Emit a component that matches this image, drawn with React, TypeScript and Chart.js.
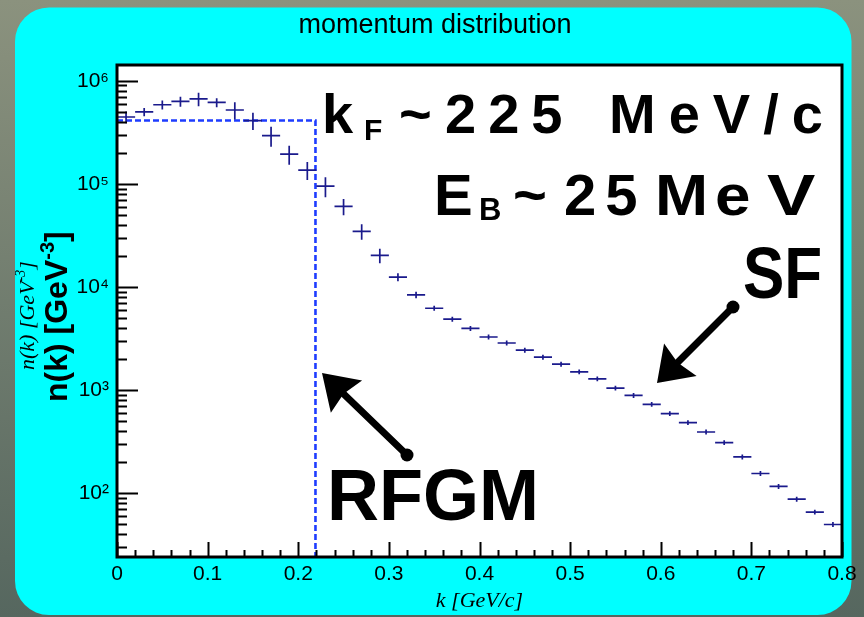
import React, { useEffect, useRef } from 'react';
import { Chart, registerables } from 'chart.js';

Chart.register(...registerables);

// ---- data -------------------------------------------------------------
// momentum bin centres k [GeV/c] (bin width 0.02)
const K_CENTERS = [
  0.01, 0.03, 0.05, 0.07, 0.09, 0.11, 0.13, 0.15, 0.17, 0.19,
  0.21, 0.23, 0.25, 0.27, 0.29, 0.31, 0.33, 0.35, 0.37, 0.39,
  0.41, 0.43, 0.45, 0.47, 0.49, 0.51, 0.53, 0.55, 0.57, 0.59,
  0.61, 0.63, 0.65, 0.67, 0.69, 0.71, 0.73, 0.75, 0.77, 0.79,
];
const BIN_HALF = 0.01;

// spectral-function momentum distribution n(k) [GeV^-3]
const N_K = [
  4.45e5, 4.98e5, 5.85e5, 6.3e5, 6.66e5, 6.16e5, 5.2e5, 4.1e5, 2.93e5, 1.94e5,
  1.36e5, 9.5e4, 6.05e4, 3.47e4, 2.03e4, 1.25e4, 8.4e3, 6.23e3, 4.88e3, 3.98e3,
  3.28e3, 2.87e3, 2.45e3, 2.09e3, 1.79e3, 1.51e3, 1.29e3, 1.05e3, 891, 731,
  594, 486, 394, 311, 226, 156, 117, 88, 66, 50,
];

// relative statistical error of each bin
const N_K_ERR_REL = [
  0.13, 0.09, 0.1, 0.11, 0.15, 0.1, 0.19, 0.19, 0.22, 0.21,
  0.2, 0.22, 0.18, 0.17, 0.16, 0.09, 0.075, 0.055, 0.055, 0.055,
  0.055, 0.055, 0.055, 0.055, 0.055, 0.055, 0.055, 0.055, 0.055, 0.055,
  0.055, 0.055, 0.055, 0.055, 0.055, 0.055, 0.055, 0.055, 0.055, 0.055,
];

// relativistic Fermi gas: flat up to k_F, zero above
const RFGM_LEVEL = 4.12e5;
const RFGM_KF = 0.219;

// axis ranges
const X_MIN = 0;
const X_MAX = 0.8;
const X_STEP = 0.1;
const X_MINOR = 0.02;
const Y_MIN = 24.2;
const Y_MAX = 1.42e6;

const SUPERSCRIPT: Record<number, string> = {
  0: '\u2070', 1: '\u00b9', 2: '\u00b2', 3: '\u00b3', 4: '\u2074',
  5: '\u2075', 6: '\u2076', 7: '\u2077', 8: '\u2078', 9: '\u2079',
};

// ---- styles & layout --------------------------------------------------
const W = 864;
const H = 617;
const SANS = "'Liberation Sans', Arial, Helvetica, sans-serif";
const SERIF = "'Liberation Serif', 'Times New Roman', serif";
const SF_COLOR = '#1a1a8c';
const RFGM_COLOR = '#1e3cff';
const PAD = { x: 15, y: 7.5, w: 836.5, h: 607.5, r: 34 };
const CLIP_X = { left: 15, right: 857 };

function drawArrow(
  ctx: CanvasRenderingContext2D,
  tip: [number, number],
  tail: [number, number],
  headLen: number,
  headHalf: number,
  shaftW: number,
  blobR: number,
) {
  const dx = tail[0] - tip[0];
  const dy = tail[1] - tip[1];
  const L = Math.hypot(dx, dy);
  const ux = dx / L;
  const uy = dy / L;
  const nx = -uy;
  const ny = ux;
  const bx = tip[0] + ux * headLen;
  const by = tip[1] + uy * headLen;
  ctx.save();
  ctx.fillStyle = '#000';
  ctx.strokeStyle = '#000';
  ctx.lineWidth = shaftW;
  ctx.lineCap = 'round';
  ctx.beginPath();
  ctx.moveTo(bx - ux * 6, by - uy * 6);
  ctx.lineTo(tail[0], tail[1]);
  ctx.stroke();
  ctx.beginPath();
  ctx.arc(tail[0], tail[1], blobR, 0, Math.PI * 2);
  ctx.fill();
  ctx.beginPath();
  ctx.moveTo(tip[0], tip[1]);
  ctx.lineTo(bx + nx * headHalf, by + ny * headHalf);
  ctx.lineTo(bx - ux * 4, by - uy * 4);
  ctx.lineTo(bx - nx * headHalf, by - ny * headHalf);
  ctx.closePath();
  ctx.fill();
  ctx.restore();
}

function boldText(
  ctx: CanvasRenderingContext2D,
  s: string,
  x: number,
  y: number,
  size: number,
  spacing = 0,
  sx = 1,
) {
  ctx.save();
  ctx.translate(x, y);
  ctx.scale(sx, 1);
  ctx.font = `bold ${size}px ${SANS}`;
  (ctx as any).letterSpacing = `${spacing}px`;
  ctx.fillText(s, 0, 0);
  ctx.restore();
}

// rotated axis title with a raised exponent
function verticalTitle(
  ctx: CanvasRenderingContext2D,
  x: number,
  yStart: number,
  font: string,
  supFont: string,
  supRaise: number,
  head: string,
  sup: string,
  tail: string,
) {
  ctx.save();
  ctx.translate(x, yStart);
  ctx.rotate(-Math.PI / 2);
  ctx.fillStyle = '#000';
  ctx.textBaseline = 'alphabetic';
  ctx.textAlign = 'left';
  ctx.font = font;
  ctx.fillText(head, 0, 0);
  let cx = ctx.measureText(head).width;
  ctx.font = supFont;
  ctx.fillText(sup, cx, -supRaise);
  cx += ctx.measureText(sup).width;
  ctx.font = font;
  ctx.fillText(tail, cx, 0);
  ctx.restore();
}

const padPlugin = {
  id: 'rootPad',
  beforeDraw(chart: any) {
    const ctx: CanvasRenderingContext2D = chart.ctx;
    const { left, top, right, bottom } = chart.chartArea;
    ctx.save();
    const g = ctx.createLinearGradient(0, 0, 0, H);
    g.addColorStop(0, '#8b927e');
    g.addColorStop(1, '#56675f');
    ctx.fillStyle = g;
    ctx.fillRect(0, 0, W, H);
    ctx.beginPath();
    ctx.roundRect(PAD.x, PAD.y, PAD.w, PAD.h, PAD.r);
    ctx.fillStyle = '#00ffff';
    ctx.fill();
    ctx.fillStyle = '#ffffff';
    ctx.fillRect(left, top, right - left, bottom - top);
    ctx.restore();
    // everything else stays inside the pad's horizontal extent
    ctx.save();
    ctx.beginPath();
    ctx.rect(CLIP_X.left, 0, CLIP_X.right - CLIP_X.left, H);
    ctx.clip();
  },
  afterDatasetsDraw(chart: any) {
    const ctx: CanvasRenderingContext2D = chart.ctx;
    const xs = chart.scales.x;
    const ys = chart.scales.y;
    const { left, top, right, bottom } = chart.chartArea;
    ctx.save();
    ctx.beginPath();
    ctx.rect(left, top, right - left, bottom - top);
    ctx.clip();
    ctx.strokeStyle = SF_COLOR;
    ctx.lineWidth = 1.7;
    K_CENTERS.forEach((k, i) => {
      const v = N_K[i];
      const e = v * N_K_ERR_REL[i];
      const px = xs.getPixelForValue(k);
      const py = ys.getPixelForValue(v);
      ctx.beginPath();
      ctx.moveTo(xs.getPixelForValue(k - BIN_HALF), py);
      ctx.lineTo(xs.getPixelForValue(k + BIN_HALF), py);
      ctx.moveTo(px, ys.getPixelForValue(v - e));
      ctx.lineTo(px, ys.getPixelForValue(v + e));
      ctx.stroke();
    });
    ctx.restore();
  },
  afterDraw(chart: any) {
    const ctx: CanvasRenderingContext2D = chart.ctx;
    const xs = chart.scales.x;
    const ys = chart.scales.y;
    const { left, top, right, bottom } = chart.chartArea;

    // tick marks inside the frame
    ctx.save();
    ctx.strokeStyle = '#000';
    ctx.lineWidth = 2;
    ctx.beginPath();
    const eMin = Math.floor(Math.log10(Y_MIN));
    const eMax = Math.ceil(Math.log10(Y_MAX));
    for (let e = eMin; e <= eMax; e++) {
      for (let m = 1; m <= 9; m++) {
        const v = m * Math.pow(10, e);
        if (v < Y_MIN || v > Y_MAX) continue;
        const y = Math.round(ys.getPixelForValue(v)) + 0.5;
        ctx.moveTo(left, y);
        ctx.lineTo(left + (m === 1 ? 21 : 10), y);
      }
    }
    const nMinor = Math.round((X_MAX - X_MIN) / X_MINOR);
    const perMajor = Math.round(X_STEP / X_MINOR);
    for (let i = 0; i <= nMinor; i++) {
      const x = Math.round(xs.getPixelForValue(X_MIN + i * X_MINOR)) + 0.5;
      ctx.moveTo(x, bottom);
      ctx.lineTo(x, bottom - (i % perMajor === 0 ? 15 : 7));
    }
    ctx.stroke();
    ctx.lineWidth = 3;
    ctx.strokeRect(left, top, right - left, bottom - top);
    ctx.restore();

    // pad title
    ctx.save();
    ctx.fillStyle = '#000';
    ctx.textAlign = 'center';
    ctx.textBaseline = 'alphabetic';
    ctx.font = `27px ${SANS}`;
    ctx.fillText('momentum distribution', 435, 33);
    ctx.restore();

    // y axis titles
    verticalTitle(ctx, 33.5, 370, `italic 22px ${SERIF}`, `italic 14px ${SERIF}`, 9,
      'n(k) [GeV', '-3', ']');
    verticalTitle(ctx, 67, 402, `bold 32px ${SANS}`, `bold 20px ${SANS}`, 13,
      'n(k) [GeV', '-3', ']');

    // annotations
    ctx.save();
    ctx.fillStyle = '#000';
    ctx.textAlign = 'left';
    ctx.textBaseline = 'alphabetic';
    boldText(ctx, 'k', 322, 133, 56);
    boldText(ctx, 'F', 364, 140, 30);
    boldText(ctx, '~', 399, 133, 56);
    boldText(ctx, '225', 445, 133, 56, 12);
    boldText(ctx, 'MeV/c', 609, 133, 56, 13);

    boldText(ctx, 'E', 434, 215, 58);
    boldText(ctx, 'B', 479, 220, 31);
    boldText(ctx, '~', 513, 215, 58);
    boldText(ctx, '25', 564, 215, 58, 9);
    boldText(ctx, 'M', 655, 215, 58, 0, 1.1);
    boldText(ctx, 'e', 715, 215, 58, 0, 1.1);
    boldText(ctx, 'V', 767, 215, 58, 0, 1.25);

    boldText(ctx, 'SF', 743, 298, 72, 0, 0.86);
    boldText(ctx, 'RFGM', 327, 520, 72);
    ctx.restore();

    drawArrow(ctx, [657, 383], [733, 307], 33, 23, 7, 6.5);
    drawArrow(ctx, [322, 373], [407, 455], 34, 22.5, 7, 6.5);

    ctx.restore(); // clip from beforeDraw
  },
};

export default function App() {
  const canvasRef = useRef<HTMLCanvasElement | null>(null);

  useEffect(() => {
    const canvas = canvasRef.current;
    if (!canvas) return;
    const chart = new Chart(canvas, {
      type: 'scatter',
      data: {
        datasets: [
          {
            label: 'SF',
            data: K_CENTERS.map((k, i) => ({ x: k, y: N_K[i] })),
            showLine: false,
            pointRadius: 0,
            borderColor: SF_COLOR,
            backgroundColor: SF_COLOR,
          },
          {
            label: 'RFGM',
            data: [
              { x: X_MIN, y: RFGM_LEVEL },
              { x: RFGM_KF, y: RFGM_LEVEL },
              { x: RFGM_KF, y: Y_MIN },
            ],
            showLine: true,
            borderColor: RFGM_COLOR,
            borderWidth: 2.6,
            borderDash: [6, 3],
            pointRadius: 0,
            tension: 0,
          },
        ],
      },
      options: {
        responsive: false,
        animation: false,
        devicePixelRatio: 1,
        events: [],
        layout: { padding: { left: 10, right: 22, top: 65, bottom: 0 } },
        plugins: {
          legend: { display: false },
          tooltip: { enabled: false },
          title: { display: false },
        },
        scales: {
          x: {
            type: 'linear',
            min: X_MIN,
            max: X_MAX,
            grid: { display: false, drawTicks: false, tickLength: 0 },
            border: { display: false },
            ticks: {
              stepSize: X_STEP,
              autoSkip: false,
              maxRotation: 0,
              color: '#000',
              padding: 5,
              font: { family: SANS, size: 21 },
            },
            title: {
              display: true,
              text: 'k [GeV/c]',
              color: '#000',
              font: { family: SERIF, size: 22, style: 'italic' },
              padding: { top: 0, bottom: 3 },
            },
            afterFit(s: any) {
              s.height = 60;
              s.paddingLeft = 0;
              s.paddingRight = 0;
            },
          },
          y: {
            type: 'logarithmic',
            min: Y_MIN,
            max: Y_MAX,
            grid: { display: false, drawTicks: false, tickLength: 0 },
            border: { display: false },
            ticks: {
              autoSkip: false,
              color: '#000',
              padding: 8,
              font: { family: SANS, size: 21 },
              callback: (value: any) => {
                const l = Math.log10(Number(value));
                const r = Math.round(l);
                return Math.abs(l - r) < 1e-9 ? '10' + (SUPERSCRIPT[r] ?? '') : '';
              },
            },
            afterFit(s: any) {
              s.width = 107;
              s.paddingTop = 0;
              s.paddingBottom = 0;
            },
          },
        },
      },
      plugins: [padPlugin],
    } as any);
    return () => chart.destroy();
  }, []);

  return (
    <div style={{ position: 'fixed', left: 0, top: 0, width: W, height: H }}>
      <canvas
        ref={canvasRef}
        width={W}
        height={H}
        style={{ display: 'block', width: W, height: H }}
      />
    </div>
  );
}
